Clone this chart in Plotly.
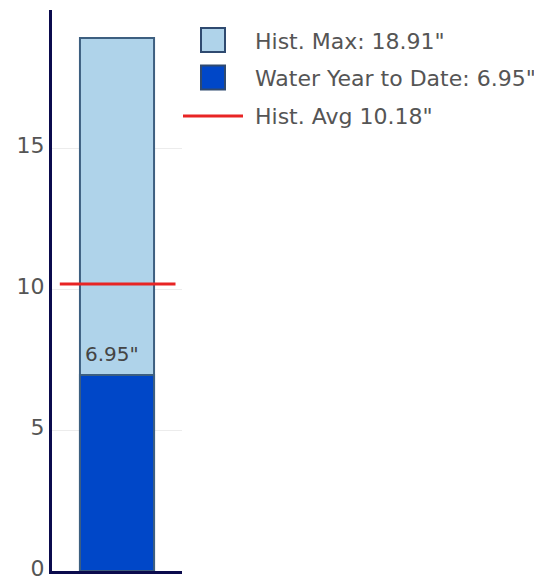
import plotly.graph_objects as go

# Data
hist_max = 18.91
water_ytd = 6.95
hist_avg = 10.18
legend_labels = ['Hist. Max: 18.91"', 'Water Year to Date: 6.95"', 'Hist. Avg 10.18"']
bar_label = '6.95"'
y_ticks = [0, 5, 10, 15]

# page body has an 8px margin; compensate so the screenshot lines up
OFF = 8
W, H = 542, 579
L, R, T, B = 52 - OFF, 360 + OFF, 10 - OFF, 8 + OFF
pw, ph = W - L - R, H - T - B

def px(xp):  # screenshot pixel x -> paper
    return (xp - OFF - L) / pw

def py(yp):  # screenshot pixel y -> paper
    return (H - B - (yp - OFF)) / ph

fig = go.Figure()
fig.add_trace(go.Bar(
    x=[0], y=[hist_max], width=0.57,
    marker=dict(color="#afd3ea", line=dict(color="#3d5f80", width=2)),
    showlegend=False, hoverinfo="skip",
))
fig.add_trace(go.Bar(
    x=[0], y=[water_ytd], width=0.57,
    marker=dict(color="#0047c8", line=dict(color="#3d5f80", width=2)),
    showlegend=False, hoverinfo="skip",
))
fig.add_trace(go.Scatter(
    x=[-0.44, 0.45], y=[hist_avg, hist_avg], mode="lines",
    line=dict(color="#e82424", width=3), showlegend=False, hoverinfo="skip",
    cliponaxis=False,
))
fig.add_annotation(text=bar_label, x=0, y=water_ytd, xref="x", yref="y",
                   xshift=-5, yshift=21, yanchor="middle", showarrow=False,
                   font=dict(family="DejaVu Sans", size=20, color="#444"))

# custom legend
font = dict(family="DejaVu Sans", size=22, color="#555")
text_centers = [42, 78, 116]
sym_centers = [40, 77.5]
fills = ["#afd3ea", "#0047c8"]
for i in range(2):
    c = sym_centers[i]
    fig.add_shape(type="rect", xref="paper", yref="paper",
                  x0=px(201), x1=px(225), y0=py(c - 12), y1=py(c + 12),
                  fillcolor=fills[i], line=dict(color="#2f4a70", width=2))
fig.add_shape(type="line", xref="paper", yref="paper",
              x0=px(183), x1=px(243), y0=py(116), y1=py(116),
              line=dict(color="#e82424", width=3))
for lab, c in zip(legend_labels, text_centers):
    fig.add_annotation(text=lab, xref="paper", yref="paper", x=px(253), y=py(c),
                       xanchor="left", yanchor="middle", showarrow=False, font=font)

fig.update_layout(
    width=W, height=H, margin=dict(l=L, r=R, t=T, b=B),
    paper_bgcolor="white", plot_bgcolor="white",
    barmode="overlay", showlegend=False,
    xaxis=dict(range=[-0.5, 0.5], showticklabels=False, showgrid=False, zeroline=False,
               showline=True, linecolor="#0b0b4d", linewidth=3, fixedrange=True),
    yaxis=dict(range=[0, 19.9], tickvals=y_ticks, showgrid=True, gridcolor="#ececec",
               zeroline=False, showline=True, linecolor="#0b0b4d", linewidth=3,
               ticklabelshift=-3,
               tickfont=dict(family="DejaVu Sans", size=22, color="#555"), ticks=""),
)

fig.write_html("out.html")
